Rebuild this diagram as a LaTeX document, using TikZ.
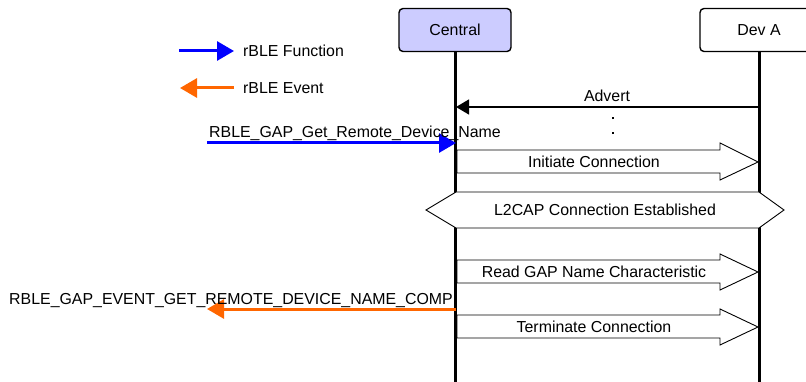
\documentclass[tikz,border=0pt]{standalone}
\usepackage{fontspec}
\setmainfont{Liberation Sans}
\usetikzlibrary{arrows.meta}
\definecolor{lav}{HTML}{CCCCFF}
\definecolor{fnblue}{HTML}{0000FF}
\definecolor{evorange}{HTML}{FF6600}
\begin{document}
\begin{tikzpicture}[x=1pt,y=-1pt,
  every node/.style={font=\fontsize{15.9}{19}\selectfont, inner sep=0pt},
  actor/.style={draw, line width=1.4pt, rounded corners=4pt, minimum height=43pt, minimum width=112pt},
  life/.style={line width=3pt},
  fn/.style={draw=fnblue, line width=3pt, -{Triangle[length=17pt,width=19pt]}},
  ev/.style={draw=evorange, line width=3pt, -{Triangle[length=17pt,width=19pt]}},
  blockarrow/.style={draw, line width=0.9pt, fill=white},
  lbl/.style={anchor=base}]
\useasboundingbox (0,0) rectangle (806,382);
% actors
\node[actor, fill=lav] (central) at (455,30) {Central};
\node[actor, fill=white, minimum width=118pt] (deva) at (759,30) {Dev A};
\coordinate (cend) at (455,382);
\coordinate (dend) at (759,382);
\draw[life] (central.south) -- (cend);
\draw[life] (deva.south) -- (dend);
% legend
\coordinate (lf1) at (179,51);
\coordinate (lf2) at (234,51);
\draw[fn] (lf1) -- (lf2);
\node[anchor=west] (lfn) at (243,51) {rBLE Function};
\coordinate (le1) at (234,88);
\coordinate (le2) at (180,88);
\draw[ev] (le1) -- (le2);
\node[anchor=west] (lev) at (243,88) {rBLE Event};
% Advert
\coordinate (adA) at (759,107);
\coordinate (adC) at (456,107);
\draw[line width=1.4pt, -{Triangle[length=13pt,width=15pt]}] (adA) -- (adC);
\node[lbl] (adl) at (607,102) {Advert};
\node (dot1) at (613,118) {\rule{2.5pt}{2.5pt}};
\node (dot2) at (613,133) {\rule{2.5pt}{2.5pt}};
% function call
\coordinate (fs) at (207,143);
\coordinate (fe) at (456,143);
\draw[fn] (fs) -- (fe);
\node[lbl] (fl) at (355,138) {RBLE\_GAP\_Get\_Remote\_Device\_Name};
% Initiate Connection
\draw[blockarrow] (457,150) -- (720,150) -- (720,143) -- (758,162) -- (720,180) -- (720,173) -- (457,173) -- cycle;
\node (ic) at (594,162) {Initiate Connection};
% L2CAP
\draw[blockarrow] (426,210) -- (456,192) -- (759,192) -- (784,210) -- (759,228) -- (456,228) -- cycle;
\node (l2) at (605,210) {L2CAP Connection Established};
% Read GAP
\draw[blockarrow] (457,260) -- (720,260) -- (720,254) -- (758,272) -- (720,290) -- (720,283) -- (457,283) -- cycle;
\node (rg) at (594,272) {Read GAP Name Characteristic};
% event
\coordinate (es) at (456,309);
\coordinate (ee) at (207,309);
\draw[ev] (es) -- (ee);
\node[lbl] (el) at (231,304) {RBLE\_GAP\_EVENT\_GET\_REMOTE\_DEVICE\_NAME\_COMP};
% Terminate
\draw[blockarrow] (457,315) -- (720,315) -- (720,309) -- (758,327) -- (720,345) -- (720,338) -- (457,338) -- cycle;
\node (tc) at (594,327) {Terminate Connection};
\end{tikzpicture}
\end{document}
